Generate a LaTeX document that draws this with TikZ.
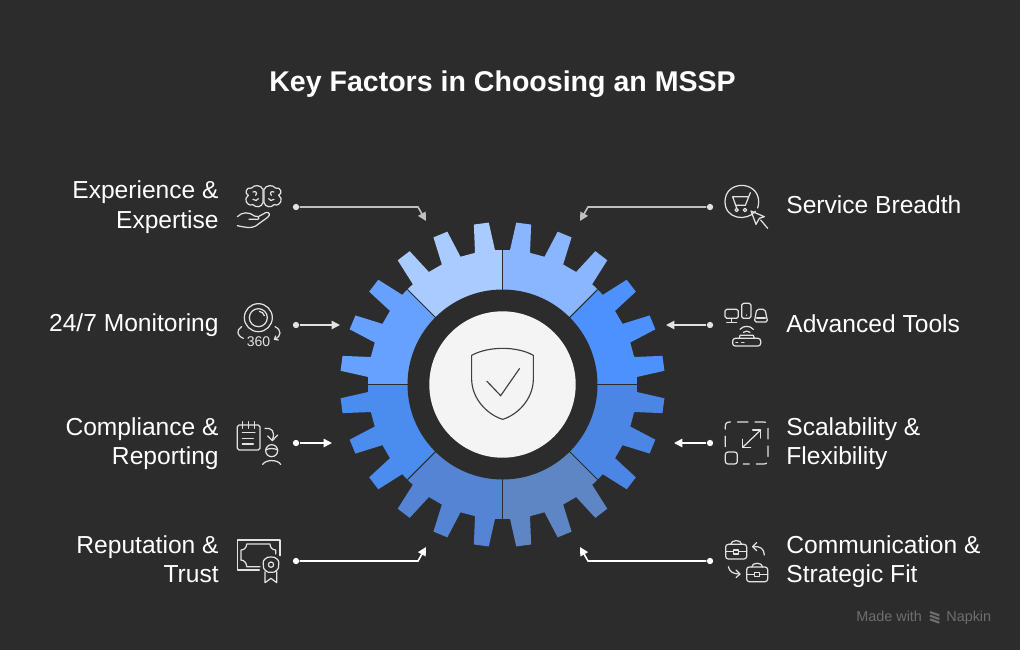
\documentclass[tikz,border=0pt]{standalone}
\usepackage{fontspec}
\setmainfont{Liberation Sans}
\usetikzlibrary{arrows.meta}
\definecolor{bgdark}{HTML}{2C2C2C}
\definecolor{iconline}{HTML}{E2E2E2}
\definecolor{hubfill}{HTML}{F4F4F4}
\definecolor{markgrey}{HTML}{6E6E6E}
\tikzset{>={Triangle[length=4.8pt,width=4.8pt]}}
\tikzset{link/.style={line width=0.9pt,#1},
  dot/.style={circle,fill=#1,inner sep=0pt,minimum size=3.6pt},
  factor/.style={font=\fontsize{14}{16.7}\selectfont,text=white,inner sep=0pt},
  icon/.style={line width=0.7pt,draw=iconline,line cap=round,line join=round},
  crop/.style={shift={#1},scale=0.33333}}
\begin{document}
\begin{tikzpicture}[x=0.02cm,y=-0.02cm]
  \fill [bgdark] (0, 0) rectangle (1020, 650);
  \node (title) [font=\fontsize{16.25}{20}\bfseries, text=white, inner sep=0pt] at (502.5, 84) {Key Factors in Choosing an MSSP};

  % gear, one sector of three teeth at a time
  \begin{scope}[shift={(502.5, 384.5)}]
    \foreach \s/\col in {225/A9CBFF, 270/8AB6FF, 315/4D91FF, 0/4B86E4, 45/5E86C4, 90/5584D4, 135/4B8CEF, 180/66A1FF} {
      \definecolor{sectcol}{HTML}{\col}
      \fill [sectcol] (\s:90) -- (\s:134.5) \foreach \t in {7.5, 22.5, 37.5} {
        -- ({\s+\t-4.3}:134.5) -- ({\s+\t-2.65}:162.5) -- ({\s+\t+2.65}:162.5) -- ({\s+\t+4.3}:134.5)
      } -- ({\s+45}:134.5) -- ({\s+45}:90) -- cycle;
    }
    \foreach \s in {0, 45, ..., 315} {
      \draw [bgdark, line width=0.6pt] (\s:90) -- (\s:134.5);
    }
    \fill [bgdark] (0, 0) circle (95);
    \fill [hubfill] (0, 0) circle (73.2);
  \end{scope}
  % shield
  \begin{scope}[crop={(420, 300)}]
    \draw [line width=0.65pt, draw=black!75] (248, 145) .. controls (215, 145) and (180, 152) .. (155, 166) -- (155, 240) .. controls (157, 300) and (205, 345) .. (248, 358) .. controls (291, 345) and (338, 300) .. (340, 240) -- (340, 166) .. controls (316, 152) and (281, 145) .. (248, 145) -- cycle;
    \draw [line width=0.65pt, draw=black!75] (200, 243) -- (242, 287) -- (299, 205);
  \end{scope}

  % labels
  \node (expLabel) [factor, align=right, anchor=east] at (219, 207) {Experience \&\\Expertise};
  \node (monLabel) [factor, anchor=east] at (219, 325) {24/7 Monitoring};
  \node (comLabel) [factor, align=right, anchor=east] at (219, 443.5) {Compliance \&\\Reporting};
  \node (repLabel) [factor, align=right, anchor=east] at (219, 559.5) {Reputation \&\\Trust};
  \node (serLabel) [factor, anchor=west] at (786, 205) {Service Breadth};
  \node (advLabel) [factor, anchor=west] at (786, 324) {Advanced Tools};
  \node (scaLabel) [factor, align=left, anchor=west] at (786, 443.5) {Scalability \&\\Flexibility};
  \node (strLabel) [factor, align=left, anchor=west] at (786, 561.5) {Communication \&\\Strategic Fit};

  % connectors
  \node (expDot) [dot=iconline] at (296, 207) {};
  \node (monDot) [dot=iconline] at (296, 325) {};
  \node (comDot) [dot=white] at (296, 443) {};
  \node (repDot) [dot=white] at (296, 561) {};
  \node (serDot) [dot=iconline] at (710, 207) {};
  \node (advDot) [dot=iconline] at (710, 325) {};
  \node (scaDot) [dot=white] at (710, 443) {};
  \node (strDot) [dot=white] at (710, 561) {};
  \coordinate (expBend) at (418, 207);
  \coordinate (expTip) at (426, 221);
  \coordinate (monTip) at (340, 325);
  \coordinate (comTip) at (332, 443);
  \coordinate (repBend) at (418, 561);
  \coordinate (repTip) at (426, 547);
  \coordinate (serBend) at (588, 207);
  \coordinate (serTip) at (580, 221);
  \coordinate (advTip) at (666, 325);
  \coordinate (scaTip) at (674, 443);
  \coordinate (strBend) at (588, 561);
  \coordinate (strTip) at (580, 547);
  \draw [link=iconline!85!black, ->] (expDot) -- (expBend) -- (expTip);
  \draw [link=iconline, ->] (monDot) -- (monTip);
  \draw [link=white, ->] (comDot) -- (comTip);
  \draw [link=white, ->] (repDot) -- (repBend) -- (repTip);
  \draw [link=iconline!85!black, ->] (serDot) -- (serBend) -- (serTip);
  \draw [link=iconline, ->] (advDot) -- (advTip);
  \draw [link=white, ->] (scaDot) -- (scaTip);
  \draw [link=white, ->] (strDot) -- (strBend) -- (strTip);

  % icons on the left
  \begin{scope}[crop={(225, 170)}, icon]
    \draw (114, 58) .. controls (108, 44) and (86, 44) .. (80, 54) .. controls (62, 50) and (58, 72) .. (70, 76) .. controls (56, 84) and (62, 110) .. (84, 104) .. controls (92, 114) and (110, 112) .. (114, 98) -- cycle;
    \draw (117, 58) .. controls (123, 44) and (145, 44) .. (151, 54) .. controls (169, 50) and (173, 72) .. (161, 76) .. controls (175, 84) and (169, 110) .. (147, 104) .. controls (139, 114) and (121, 112) .. (117, 98) -- cycle;
    \draw (84, 66) .. controls (92, 62) and (98, 68) .. (92, 76);
    \draw (147, 66) .. controls (139, 62) and (133, 68) .. (139, 76);
    \draw (84, 88) .. controls (90, 94) and (98, 92) .. (100, 86);
    \draw (147, 88) .. controls (141, 94) and (133, 92) .. (131, 86);
    \draw (37, 140) .. controls (52, 126) and (70, 124) .. (88, 138) -- (100, 140) .. controls (106, 144) and (100, 150) .. (92, 148) -- (72, 148);
    \draw (100, 140) -- (122, 128) .. controls (132, 124) and (138, 134) .. (128, 142) -- (92, 168) .. controls (78, 176) and (60, 172) .. (37, 167);
    \draw (100, 443) circle (42);
    \draw (100, 443) circle (27);
    \draw (103, 424) .. controls (110, 425) and (116, 430) .. (118, 437);
    \draw (50, 470) .. controls (34, 480) and (34, 496) .. (55, 505);
    \draw (150, 470) .. controls (170, 480) and (170, 498) .. (150, 507);
    \draw (160, 510) -- (148, 508) -- (152, 498);
  \end{scope}
  \node (monIconText) [font=\fontsize{8}{9}\selectfont, text=iconline, inner sep=0pt] at (258.5, 341.5) {360};
  \begin{scope}[crop={(225, 410)}, icon]
    \draw [rounded corners=1pt] (37, 45) rectangle (105, 120);
    \draw (52, 35) -- (52, 55) (70, 35) -- (70, 55) (88, 35) -- (88, 55);
    \draw (52, 68) -- (90, 68) (52, 85) -- (85, 85) (52, 102) -- (85, 102);
    \draw (120, 55) .. controls (140, 52) and (152, 65) .. (142, 90);
    \draw (128, 78) -- (142, 92) -- (158, 75);
    \draw (140, 122) circle (18);
    \draw (122, 120) .. controls (132, 114) and (148, 114) .. (158, 120);
    \draw (113, 163) .. controls (122, 148) and (158, 148) .. (167, 163);
    \draw (165, 437) -- (165, 390) -- (37, 390) -- (37, 480) -- (103, 480);
    \draw (48, 450) -- (48, 420) .. controls (58, 420) and (65, 412) .. (65, 402) -- (135, 402) .. controls (135, 412) and (142, 420) .. (152, 420) -- (152, 432);
    \draw (48, 450) .. controls (58, 450) and (65, 460) .. (65, 470) -- (105, 470);
    \draw (138, 441) .. controls (146, 437) and (150, 445) .. (156, 447) .. controls (164, 454) and (160, 458) .. (161, 464) .. controls (164, 472) and (158, 478) .. (155, 481) .. controls (150, 484) and (146, 490) .. (138, 487) .. controls (130, 490) and (126, 484) .. (121, 481) .. controls (118, 478) and (112, 472) .. (115, 464) .. controls (116, 458) and (112, 454) .. (120, 447) .. controls (126, 445) and (130, 437) .. (138, 441) -- cycle;
    \draw (138, 464) circle (8);
    \draw (120, 485) -- (120, 518) -- (138, 505) -- (155, 518) -- (155, 485);
  \end{scope}

  % icons on the right
  \begin{scope}[crop={(570, 180)}, icon]
    \draw (556, 94) .. controls (530, 125) and (465, 118) .. (465, 65) .. controls (465, 0) and (565, 0) .. (566, 65) .. controls (566, 72) and (565, 78) .. (563, 84);
    \draw (541, 38) -- (526, 76) -- (497, 76) -- (488, 50) -- (533, 50);
    \draw (497, 76) -- (500, 84);
    \draw (500, 90) circle (5);
    \draw (525, 90) circle (5);
    \draw (543, 93) -- (583, 110) -- (568, 115) -- (558, 133) -- cycle;
    \draw (572, 120) -- (593, 145);
    \draw [rounded corners=1pt] (465, 388) rectangle (505, 415);
    \draw (485, 415) -- (485, 426) (470, 427) -- (500, 427);
    \draw [rounded corners=1pt] (515, 370) rectangle (543, 415);
    \draw (529, 405) -- (529, 406);
    \draw [rounded corners=1pt] (553, 426) -- (560, 388) -- (585, 388) -- (593, 426) -- cycle;
    \draw (560, 414) -- (586, 414);
    \draw [rounded corners=1.5pt] (488, 475) rectangle (572, 498);
    \draw (508, 475) -- (510, 466) -- (550, 466) -- (553, 475);
    \draw (510, 448) .. controls (520, 436) and (540, 436) .. (550, 448);
    \draw (520, 457) .. controls (526, 452) and (534, 452) .. (540, 457);
    \draw (498, 488) -- (503, 488) (515, 488) -- (522, 488);
  \end{scope}
  \begin{scope}[crop={(570, 410)}, icon]
    \draw [dash pattern=on 6pt off 4pt] (466, 110) -- (466, 50) .. controls (466, 40) and (470, 36) .. (480, 36) -- (580, 36) .. controls (590, 36) and (594, 40) .. (594, 50) -- (594, 148) .. controls (594, 158) and (590, 162) .. (580, 162) -- (520, 162);
    \draw [rounded corners=1.5pt] (466, 126) rectangle (502, 162);
    \draw (518, 112) -- (572, 60);
    \draw (548, 60) -- (572, 60) -- (572, 84);
    \draw (518, 88) -- (518, 112) -- (542, 112);
    \foreach \dx/\dy in {0/0, 63/68} {
      \begin{scope}[shift={(\dx, \dy)}]
        \draw [rounded corners=1.5pt] (467, 403) rectangle (530, 447);
        \draw (482, 403) .. controls (483, 388) and (514, 388) .. (515, 403);
        \draw (467, 425) -- (490, 425) (505, 425) -- (530, 425);
        \draw (490, 420) rectangle (505, 432);
      \end{scope}
    }
    \draw (583, 435) .. controls (582, 415) and (570, 408) .. (550, 410);
    \draw (560, 398) -- (548, 410) -- (560, 422);
    \draw (475, 470) .. controls (478, 485) and (490, 492) .. (508, 492);
    \draw (498, 480) -- (510, 492) -- (498, 503);
  \end{scope}

  % watermark
  \node (madeMark) [font=\fontsize{8.2}{10}\selectfont, text=markgrey, inner sep=0pt, anchor=base west] at (856, 621) {Made with};
  \node (napkinMark) [font=\fontsize{8.2}{10}\selectfont, text=markgrey, inner sep=0pt, anchor=base west] at (946, 621) {Napkin};
  \begin{scope}[crop={(840, 600)}]
    \foreach \dy in {0, 11, 22} {
      \draw [markgrey, line width=1.2pt] (270, 36+\dy) -- (298, 46+\dy);
    }
  \end{scope}
\end{tikzpicture}
\end{document}
